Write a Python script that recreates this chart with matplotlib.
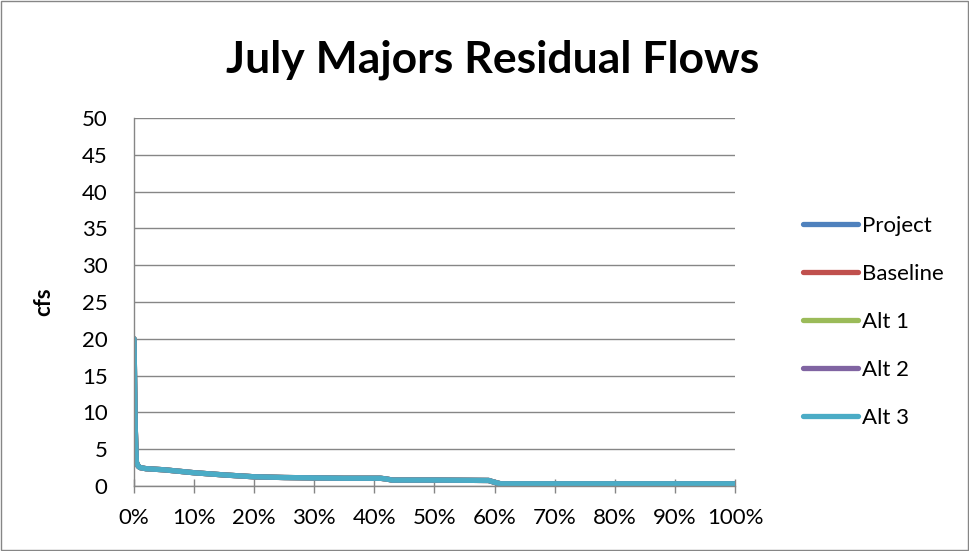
import matplotlib.pyplot as plt
from matplotlib.ticker import FuncFormatter
from matplotlib.patches import Rectangle

plt.rcParams['font.family'] = ['Lato', 'DejaVu Sans']

# exceedance (fraction of time) and residual flow (cfs)
exceed = [0.0, 0.002, 0.004, 0.007, 0.01, 0.02, 0.05, 0.10, 0.15, 0.20,
          0.25, 0.30, 0.35, 0.41, 0.42, 0.43, 0.50, 0.59, 0.60, 0.61,
          0.70, 0.80, 0.90, 1.00]
project = [20.0, 8.0, 3.2, 2.7, 2.5, 2.35, 2.2, 1.8, 1.5, 1.25,
           1.15, 1.1, 1.05, 1.05, 0.95, 0.8, 0.8, 0.75, 0.5, 0.3,
           0.3, 0.3, 0.3, 0.3]
baseline = list(project)
alt1 = list(project)
alt2 = list(project)
alt3 = list(project)

series_names = ['Project', 'Baseline', 'Alt 1', 'Alt 2', 'Alt 3']
series_values = [project, baseline, alt1, alt2, alt3]
colors = ['#4F81BD', '#C0504D', '#9BBB59', '#8064A2', '#4BACC6']

fig = plt.figure(figsize=(9.69, 5.51), dpi=100)
fig.patches.append(Rectangle((0.001, 0.001), 0.998, 0.998, transform=fig.transFigure,
                             fill=False, edgecolor='#868686', linewidth=1.0))

ax = fig.add_axes([0.1383, 0.118, 0.6202, 0.6678])
for name, vals, c in zip(series_names, series_values, colors):
    ax.plot(exceed, vals, color=c, linewidth=3.8, label=name,
            solid_capstyle='round', solid_joinstyle='round')

ax.set_xlim(0, 1)
ax.set_ylim(0, 50)
ax.set_xticks([i / 10 for i in range(11)])
ax.set_yticks(range(0, 51, 5))
ax.xaxis.set_major_formatter(FuncFormatter(lambda v, p: f'{v * 100:.0f}%'))
ax.grid(axis='y', color='#868686', linewidth=1.0)
ax.set_axisbelow(True)
for s in ['top', 'right']:
    ax.spines[s].set_visible(False)
for s in ['left', 'bottom']:
    ax.spines[s].set_color('#868686')
    ax.spines[s].set_linewidth(1.0)
ax.tick_params(axis='both', colors='#868686', labelcolor='black', labelsize=16)
ax.tick_params(axis='x', direction='inout', length=10, width=1.0, pad=11)
ax.tick_params(axis='y', length=0, pad=19)

ax.set_ylabel('cfs', fontsize=16, fontweight='bold', labelpad=20)
fig.text(0.508, 0.891, 'July Majors Residual Flows', ha='center', va='center',
         fontsize=32, fontweight='bold')

leg = ax.legend(loc='upper left', bbox_to_anchor=(1.098, 0.759), frameon=False,
                fontsize=16, handlelength=2.5, handletextpad=0.18,
                labelspacing=1.26, borderaxespad=0)

fig.savefig('out.png', dpi=100)
